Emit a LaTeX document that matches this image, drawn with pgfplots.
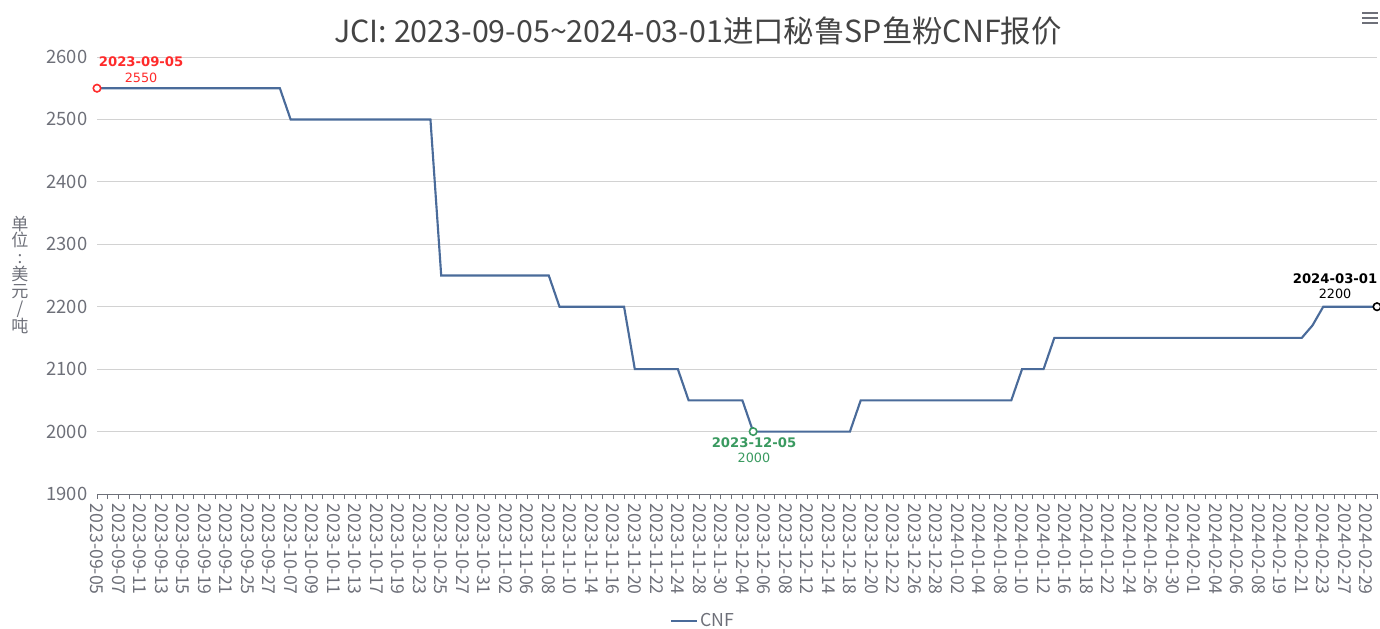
\documentclass[border=0pt]{standalone}
\usepackage{fontspec}
\setmainfont{Noto Sans CJK SC}
\newfontfamily\djv{DejaVu Sans}
\usepackage{pgfplots}
\pgfplotsset{compat=1.18}
\definecolor{linec}{HTML}{4A6B9A}
\definecolor{txt}{HTML}{6E7079}
\definecolor{gridc}{HTML}{D2D2D2}
\definecolor{redm}{HTML}{FF2B2B}
\definecolor{greenm}{HTML}{3A9A60}
\definecolor{titlec}{HTML}{444444}
\begin{document}
\begin{tikzpicture}[x=1pt,y=1pt]
\path[use as bounding box] (0,0) rectangle (1035,471);
\node[font=\fontsize{22.8}{26}\selectfont, text=titlec] at (523.5,447.75) {JCI: 2023-09-05\textasciitilde2024-03-01进口秘鲁SP鱼粉CNF报价};
\node[font=\fontsize{12.8}{12.6}\selectfont, text=txt, align=center] at (15,264.75) {单\\位\\:\\美\\元\\/\\吨};
\draw[txt, line width=1.5pt] (1021.5,461.25) -- (1033.5,461.25);
\draw[txt, line width=1.5pt] (1021.5,457.5) -- (1033.5,457.5);
\draw[txt, line width=1.5pt] (1021.5,453.75) -- (1033.5,453.75);
\begin{axis}[
  at={(72.75pt,100.5pt)}, anchor=south west,
  scale only axis, width=960pt, height=327.75pt,
  xmin=0, xmax=119, ymin=1900, ymax=2600,
  clip=false,
  axis x line=bottom, axis y line=left,
  x axis line style={-, draw=txt, line width=0.75pt},
  y axis line style={draw=none},
  ytick={1900,2000,...,2600},
  ytick style={draw=none},
  ymajorgrids, grid style={gridc, line width=0.75pt},
  xtick={0,2,...,118},
  minor xtick={1,3,...,119},
  tick align=outside,
  major tick length=3.75pt, minor tick length=3.75pt,
  xtick style={draw=txt, line width=0.6pt},
  minor x tick style={draw=txt, line width=0.6pt},
  xticklabels={2023-09-05,2023-09-07,2023-09-11,2023-09-13,2023-09-15,2023-09-19,2023-09-21,2023-09-25,2023-09-27,2023-10-07,2023-10-09,2023-10-11,2023-10-13,2023-10-17,2023-10-19,2023-10-23,2023-10-25,2023-10-27,2023-10-31,2023-11-02,2023-11-06,2023-11-08,2023-11-10,2023-11-14,2023-11-16,2023-11-20,2023-11-22,2023-11-24,2023-11-28,2023-11-30,2023-12-04,2023-12-06,2023-12-08,2023-12-12,2023-12-14,2023-12-18,2023-12-20,2023-12-22,2023-12-26,2023-12-28,2024-01-02,2024-01-04,2024-01-08,2024-01-10,2024-01-12,2024-01-16,2024-01-18,2024-01-22,2024-01-24,2024-01-26,2024-01-30,2024-02-01,2024-02-04,2024-02-06,2024-02-08,2024-02-19,2024-02-21,2024-02-23,2024-02-27,2024-02-29},
  x tick label style={rotate=-90, anchor=west, font=\fontsize{13.3}{14}\selectfont, text=txt},
  y tick label style={font=\fontsize{13.8}{15}\selectfont, text=txt},
  /pgf/number format/assume math mode=true,
  yticklabel={\pgfmathprintnumber[fixed,1000 sep={}]{\tick}},
  legend style={at={(0.474,-0.2906)}, anchor=center, draw=none, fill=none,
    font=\fontsize{13.3}{14}\selectfont, text=txt, inner sep=0pt},
  legend cell align=left,
  legend image code/.code={\draw[#1] (0pt,0pt) -- (19pt,0pt);},
]
\addplot[linec, line width=1.6pt, no marks] coordinates {
(0,2550)(1,2550)(2,2550)(3,2550)(4,2550)(5,2550)(6,2550)(7,2550)(8,2550)(9,2550)
(10,2550)(11,2550)(12,2550)(13,2550)(14,2550)(15,2550)(16,2550)(17,2550)
(18,2500)(19,2500)(20,2500)(21,2500)(22,2500)(23,2500)(24,2500)(25,2500)(26,2500)
(27,2500)(28,2500)(29,2500)(30,2500)(31,2500)
(32,2250)(33,2250)(34,2250)(35,2250)(36,2250)(37,2250)(38,2250)(39,2250)(40,2250)
(41,2250)(42,2250)
(43,2200)(44,2200)(45,2200)(46,2200)(47,2200)(48,2200)(49,2200)
(50,2100)(51,2100)(52,2100)(53,2100)(54,2100)
(55,2050)(56,2050)(57,2050)(58,2050)(59,2050)(60,2050)
(61,2000)(62,2000)(63,2000)(64,2000)(65,2000)(66,2000)(67,2000)(68,2000)(69,2000)(70,2000)
(71,2050)(72,2050)(73,2050)(74,2050)(75,2050)(76,2050)(77,2050)(78,2050)(79,2050)
(80,2050)(81,2050)(82,2050)(83,2050)(84,2050)(85,2050)
(86,2100)(87,2100)(88,2100)
(89,2150)(90,2150)(91,2150)(92,2150)(93,2150)(94,2150)(95,2150)(96,2150)(97,2150)
(98,2150)(99,2150)(100,2150)(101,2150)(102,2150)(103,2150)(104,2150)(105,2150)(106,2150)
(107,2150)(108,2150)(109,2150)(110,2150)(111,2150)(112,2150)
(113,2170)
(114,2200)(115,2200)(116,2200)(117,2200)(118,2200)(119,2200)
};
\addlegendentry{CNF}
\addplot[forget plot, only marks, mark=*, mark size=2.8pt, mark options={fill=white, draw=redm, line width=1.2pt}] coordinates {(0,2550)};
\addplot[forget plot, only marks, mark=*, mark size=2.8pt, mark options={fill=white, draw=greenm, line width=1.2pt}] coordinates {(61,2000)};
\addplot[forget plot, only marks, mark=*, mark size=2.8pt, mark options={fill=white, draw=black, line width=1.2pt}] coordinates {(119,2200)};
\node[text=redm, font=\djv\bfseries\fontsize{9.9}{12}\selectfont] at (axis cs:4.1,2592) {2023-09-05};
\node[text=redm, font=\djv\fontsize{9.6}{12}\selectfont] at (axis cs:4.1,2566.4) {2550};
\node[text=greenm, font=\djv\bfseries\fontsize{9.9}{12}\selectfont] at (axis cs:61.08,1981.4) {2023-12-05};
\node[text=greenm, font=\djv\fontsize{9.6}{12}\selectfont] at (axis cs:61.08,1957.4) {2000};
\node[text=black, font=\djv\bfseries\fontsize{9.9}{12}\selectfont] at (axis cs:115.1,2244.2) {2024-03-01};
\node[text=black, font=\djv\fontsize{9.6}{12}\selectfont] at (axis cs:115.1,2220.2) {2200};
\end{axis}
\end{tikzpicture}
\end{document}
